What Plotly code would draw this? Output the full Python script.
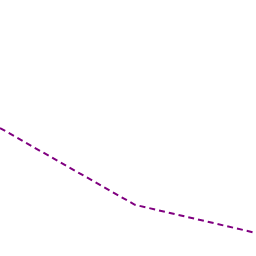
import plotly.graph_objects as go

x_vals = [0, 52.7, 100]
y_vals = [50, 20, 9]

fig = go.Figure()
fig.add_trace(go.Scatter(
    x=x_vals, y=y_vals, mode="lines",
    line=dict(color="#800080", width=2, dash="6px,4px"),
    showlegend=False,
))
fig.update_layout(
    width=256, height=256,
    margin=dict(l=0, r=0, t=0, b=0),
    paper_bgcolor="white", plot_bgcolor="white",
    xaxis=dict(range=[0, 100], visible=False),
    yaxis=dict(range=[0, 100], visible=False),
)
fig.write_html("out.html")
